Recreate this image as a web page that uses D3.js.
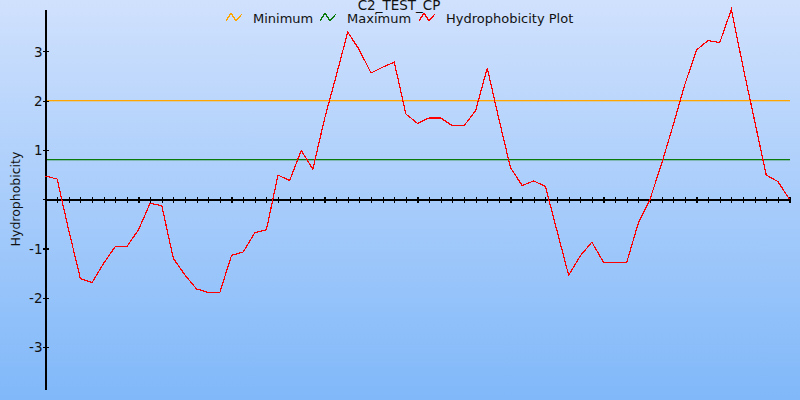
<!DOCTYPE html>
<html><head><meta charset="utf-8">
<script src="https://cdn.jsdelivr.net/npm/d3@7"></script>
<style>html,body{margin:0;padding:0;overflow:hidden;}svg{display:block;}</style>
</head><body>
<svg id="chart" width="800" height="400"></svg>
<script>
const title = "C2_TEST_CP";
const yLabel = "Hydrophobicity";
const seriesNames = ["Minimum", "Maximum", "Hydrophobicity Plot"];
const seriesColors = ["#ffa500", "#0a7a0a", "#ff0000"];
const minimumValue = 2.0;
const maximumValue = 0.81;
const positions = d3.range(0, 65);
const hydrophobicity = [
  0.47, 0.41, -0.63, -1.61, -1.69, -1.30, -0.96, -0.96, -0.62, -0.08,
  -0.13, -1.20, -1.54, -1.82, -1.89, -1.89, -1.14, -1.07, -0.68, -0.62,
  0.49, 0.38, 0.99, 0.61, 1.63, 2.50, 3.39, 3.03, 2.56, 2.68,
  2.78, 1.73, 1.54, 1.65, 1.65, 1.49, 1.49, 1.80, 2.66, 1.63,
  0.64, 0.28, 0.37, 0.26, -0.64, -1.54, -1.15, -0.87, -1.28, -1.28,
  -1.28, -0.48, 0.00, 0.72, 1.51, 2.33, 3.03, 3.22, 3.18, 3.85,
  2.69, 1.59, 0.49, 0.36, 0.00
];
const yTicks = [-3, -2, -1, 0, 1, 2, 3];

const svg = d3.select("#chart");
const W = 800, H = 400;
const defs = svg.append("defs");
const grad = defs.append("linearGradient").attr("id", "bg").attr("x1", 0).attr("y1", 0).attr("x2", 0).attr("y2", 1);
grad.append("stop").attr("offset", 0).attr("stop-color", "#d0e1fd");
grad.append("stop").attr("offset", 1).attr("stop-color", "#80b8f9");
svg.append("rect").attr("width", W).attr("height", H).attr("fill", "url(#bg)");

const maxAbs = d3.max(hydrophobicity, d => Math.abs(d));
const x = d3.scaleLinear().domain([0, positions.length - 1]).range([45.5, 789.5]);
const y = d3.scaleLinear().domain([-maxAbs, maxAbs]).range([389, 9.5]);

const font = "DejaVu Sans, Verdana, sans-serif";

// threshold lines
[[minimumValue, seriesColors[0]], [maximumValue, seriesColors[1]]].forEach(([v, c]) => {
  const yy = Math.floor(y(v));
  svg.append("rect").attr("x", 46).attr("y", yy).attr("width", x(64) + 0.5 - 46).attr("height", 1.3)
    .style("fill", c);
});

// x axis at zero with ticks at each position
const xAxis = d3.axisBottom(x).tickValues(positions).tickSize(0).tickFormat("");
const gx = svg.append("g").attr("transform", `translate(0,${Math.floor(y(0)) + 0.5})`).call(xAxis);
gx.attr("shape-rendering", "crispEdges");
gx.select(".domain").attr("stroke", "#000").attr("stroke-width", 1.5);
gx.selectAll(".tick line").attr("y1", -3).attr("y2", 3).attr("stroke", "#000").attr("stroke-width", 1.2);

// y axis
const yAxis = d3.axisLeft(y).tickValues(yTicks).tickSize(0).tickPadding(4)
  .tickFormat(d => d === 0 ? "" : d3.format("d")(d).replace("\u2212", "-"));
const gy = svg.append("g").attr("transform", `translate(45.5,0)`).call(yAxis);
gy.attr("shape-rendering", "crispEdges");
gy.select(".domain").attr("stroke", "#000").attr("stroke-width", 1.5);
gy.selectAll(".tick line").attr("x1", -3).attr("x2", 3).attr("stroke", "#000").attr("stroke-width", 1.2);
gy.selectAll(".tick text").attr("font-family", font).attr("font-size", 13.5).attr("fill", "#111").attr("x", -3).attr("dy", "0.36em");

// data line
const line = d3.line().x((d, i) => x(positions[i])).y(d => y(d));
svg.append("path").datum(hydrophobicity).attr("d", line)
  .attr("fill", "none").attr("stroke", seriesColors[2]).attr("stroke-width", 1.2)
  .attr("shape-rendering", "crispEdges");

// y label
svg.append("text").attr("transform", `translate(20,199) rotate(-90)`)
  .attr("text-anchor", "middle").attr("font-family", font).attr("font-size", 12.5)
  .attr("fill", "#111").text(yLabel);

// title
svg.append("text").attr("x", 399).attr("y", 9.5).attr("text-anchor", "middle")
  .attr("font-family", font).attr("font-size", 13.5).attr("fill", "#111").text(title);

// legend
const legendX = [226, 320, 419];
const lg = svg.append("g");
seriesNames.forEach((name, i) => {
  const g = lg.append("g").attr("transform", `translate(${legendX[i]},12)`);
  g.append("path").attr("d", "M0,9 L5,1 L10,9 L16,2").attr("fill", "none")
    .attr("stroke", seriesColors[i]).attr("stroke-width", 1.2).attr("shape-rendering", "crispEdges");
  g.append("text").attr("x", 27).attr("y", 10.5).attr("font-family", font)
    .attr("font-size", 13).attr("fill", "#111").text(name);
});
</script>
</body></html>
